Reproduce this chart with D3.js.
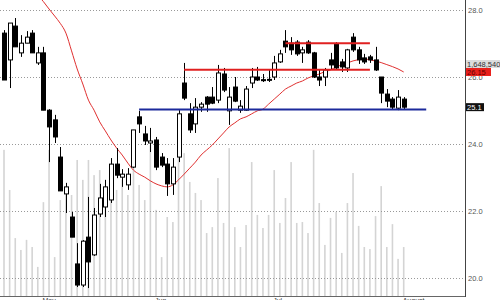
<!DOCTYPE html>
<html lang="en">
<head>
<meta charset="utf-8">
<title>Price chart</title>
<script src="https://cdn.jsdelivr.net/npm/d3@7/dist/d3.min.js"></script>
<style>
  body { margin: 0; background: #fff; }
  text { font-family: "Liberation Sans", Arial, sans-serif; }
</style>
</head>
<body>
<script>
// daily candles, oldest first
var opens  = [27.31, 26.51, 27.52, 26.72, 27.01, 27.31, 26.42, 26.72, 25.01, 24.72,
              23.61, 22.51, 21.82, 20.42, 19.79, 21.22, 20.69, 21.91, 22.12, 22.33,
              23.40, 23.01, 22.78, 23.31, 24.81, 24.30, 24.03, 24.12, 23.61, 23.40,
              22.81, 23.61, 25.82, 24.90, 24.60, 25.10, 25.40, 25.40, 25.31, 26.09,
              24.99, 25.70, 25.01, 25.01, 25.82, 26.00, 25.92, 25.90, 26.00, 26.45,
              27.07, 27.01, 27.04, 26.72, 27.04, 26.72, 26.00, 26.00, 26.51, 26.99,
              26.45, 26.27, 27.19, 26.81, 26.57, 26.60, 26.51, 26.00, 25.49, 25.34,
              25.07, 25.34];
var highs  = [27.40, 27.61, 27.76, 27.25, 27.37, 27.40, 26.90, 26.90, 25.04, 24.87,
              23.91, 22.84, 21.97, 21.04, 21.13, 22.42, 22.09, 22.81, 22.93, 23.58,
              23.88, 23.25, 23.28, 24.42, 24.99, 24.54, 24.48, 24.21, 23.73, 23.58,
              23.58, 25.01, 26.42, 25.22, 25.37, 25.25, 25.43, 25.70, 26.36, 26.27,
              25.70, 26.00, 25.31, 25.73, 26.27, 26.30, 26.09, 26.21, 26.63, 26.81,
              27.40, 27.19, 27.10, 26.90, 27.10, 26.75, 26.21, 26.27, 26.72, 27.04,
              26.54, 26.84, 27.31, 26.90, 26.69, 26.66, 26.90, 26.00, 25.64, 25.40,
              25.61, 25.40];
var lows   = [25.91, 25.67, 26.90, 26.60, 27.01, 26.72, 26.36, 25.01, 23.46, 24.03,
              22.60, 21.94, 21.22, 19.73, 19.73, 19.70, 20.66, 21.82, 21.82, 22.24,
              22.98, 22.72, 22.63, 23.28, 24.33, 23.97, 23.76, 23.22, 23.31, 22.45,
              22.48, 23.46, 25.31, 24.33, 24.33, 24.96, 24.96, 25.19, 25.22, 25.55,
              24.57, 25.25, 24.93, 24.99, 25.67, 25.88, 25.85, 25.85, 25.91, 26.42,
              26.72, 26.66, 26.63, 26.42, 26.69, 25.97, 25.73, 25.73, 26.21, 26.21,
              26.15, 26.15, 26.75, 26.39, 26.39, 26.42, 26.18, 25.22, 25.10, 25.04,
              25.01, 25.04];
var closes = [25.91, 27.61, 26.90, 27.01, 27.19, 26.72, 26.72, 25.01, 24.51, 24.21,
              22.60, 22.72, 21.22, 19.79, 21.10, 20.48, 21.88, 22.39, 22.72, 23.40,
              23.07, 23.10, 23.10, 24.42, 24.60, 24.09, 24.09, 23.31, 23.37, 22.81,
              23.31, 24.90, 25.37, 24.42, 25.10, 25.19, 25.19, 25.22, 26.12, 25.61,
              25.40, 25.28, 25.13, 25.64, 26.00, 25.91, 25.89, 25.93, 26.42, 26.69,
              26.90, 26.81, 26.69, 26.81, 26.72, 26.00, 25.91, 26.21, 26.36, 26.27,
              26.30, 26.81, 26.81, 26.51, 26.45, 26.51, 26.21, 25.52, 25.28, 25.10,
              25.40, 25.10];
// shares traded per day
var volumes = [4920000, 3570000, 1950000, 1550000, 1890000, 1650000,  980000, 3160000, 4920000, 1310000,
               3230000, 3570000, 3400000, 4580000, 3910000, 4580000, 4070000, 4240000, 3230000, 4240000,
               3570000, 3910000, 3400000, 4580000, 3740000, 3230000, 5080000, 2900000, 1310000, 2660000,
               2490000, 4980000, 4810000, 3840000, 3470000, 3230000, 2120000, 2320000, 3970000, 2460000,
               4980000, 2320000, 1650000, 2390000, 4510000, 2730000, 2290000, 2730000, 4240000, 2460000,
               3300000, 4510000, 2460000, 2490000, 2120000, 4920000, 3130000, 1720000, 2630000, 2830000,
               1450000, 3130000, 4140000, 2360000, 1650000, 1580000, 2690000, 3700000, 1650000, 2420000,
               1250000, 1648540];
// moving average line (null where it is not drawn)
var maValues = [null, null, null, null, null, null, 28.45, 28.25, 28.03, 27.82,
                27.60, 27.31, 26.78, 26.24, 25.79, 25.31, 25.01, 24.66, 24.39, 24.12,
                23.88, 23.67, 23.43, 23.22, 23.10, 23.01, 22.90, 22.81, 22.75, 22.72,
                22.78, 22.93, 23.10, 23.28, 23.46, 23.67, 23.82, 23.97, 24.15, 24.33,
                24.51, 24.63, 24.75, 24.81, 24.90, 24.99, 25.04, 25.19, 25.34, 25.49,
                25.64, 25.73, 25.82, 25.88, 25.97, 26.03, 26.09, 26.16, 26.21, 26.30,
                26.36, 26.42, 26.48, 26.52, 26.54, 26.51, 26.48, 26.43, 26.37, 26.31,
                26.24, 26.15];
var monthLabels = ["May", "Jun", "Jul", "August"];
var monthStarts = [7, 27, 48, 71];
var priceTicks = [20, 22, 24, 26, 28];
// drawn support / resistance levels
var levelPrices = [27.01, 26.22, 25.03];
var levelFrom   = [50, 32, 24];
var levelTo     = [65, 65, 75];

var w = 500, h = 300;
var plotRight = 465, plotBottom = 296;

var svg = d3.select("body").append("svg")
  .attr("width", w)
  .attr("height", h);

var x = d3.scaleLinear().domain([0, 71]).range([4, 403.7]);
var y = d3.scaleLinear().domain([20, 28]).range([278, 10]);
var yVol = d3.scaleLinear().domain([0, 10000000]).range([plotBottom, -1]);

svg.append("clipPath").attr("id", "plot")
  .append("rect").attr("x", 0).attr("y", 0)
  .attr("width", plotRight).attr("height", plotBottom);

var plot = svg.append("g").attr("clip-path", "url(#plot)");

// volume bars in the background
plot.selectAll("rect.vol")
  .data(volumes)
  .enter()
  .append("rect")
  .attr("class", "vol")
  .attr("x", function(d, i) { return x(i) - 0.8; })
  .attr("y", function(d) { return yVol(d); })
  .attr("width", 1.6)
  .attr("height", function(d) { return plotBottom - yVol(d); })
  .attr("fill", "#d4d4d4");

// dotted price grid
plot.selectAll("line.grid")
  .data(priceTicks)
  .enter()
  .append("line")
  .attr("x1", 0).attr("x2", plotRight)
  .attr("y1", function(d) { return Math.round(y(d)) + 0.5; })
  .attr("y2", function(d) { return Math.round(y(d)) + 0.5; })
  .attr("stroke", "#999")
  .attr("stroke-dasharray", "1,2");

// moving average
var maLine = d3.line()
  .defined(function(d) { return d != null; })
  .x(function(d, i) { return x(i); })
  .y(function(d) { return y(d); })
  .curve(d3.curveMonotoneX);

plot.append("path")
  .datum(maValues)
  .attr("d", maLine)
  .attr("fill", "none")
  .attr("stroke", "#e03030")
  .attr("stroke-width", 1);

// candles
var candles = plot.selectAll("g.candle")
  .data(closes)
  .enter()
  .append("g");

candles.append("line")
  .attr("x1", function(d, i) { return Math.round(x(i)) + 0.5; })
  .attr("x2", function(d, i) { return Math.round(x(i)) + 0.5; })
  .attr("y1", function(d, i) { return y(highs[i]); })
  .attr("y2", function(d, i) { return y(lows[i]); })
  .attr("stroke", "#000");

candles.append("rect")
  .attr("x", function(d, i) { return Math.round(x(i)) - 1.5; })
  .attr("y", function(d, i) { return y(Math.max(opens[i], d)); })
  .attr("width", 4)
  .attr("height", function(d, i) {
    return Math.max(1, Math.abs(y(opens[i]) - y(d)));
  })
  .attr("fill", function(d, i) { return d >= opens[i] ? "#fff" : "#000"; })
  .attr("stroke", "#000")
  .attr("stroke-width", 1);

// support / resistance lines
plot.selectAll("line.level")
  .data(levelPrices)
  .enter()
  .append("line")
  .attr("x1", function(d, i) { return x(levelFrom[i]); })
  .attr("x2", function(d, i) { return x(levelTo[i]); })
  .attr("y1", function(d) { return y(d); })
  .attr("y2", function(d) { return y(d); })
  .attr("stroke", function(d, i) { return i < 2 ? "#e02020" : "#1c2a9c"; })
  .attr("stroke-width", 2);

// right price axis
var axis = d3.axisRight(y)
  .tickValues(priceTicks)
  .tickSize(0)
  .tickPadding(3)
  .tickFormat(d3.format(".1f"));

var ax = svg.append("g")
  .attr("transform", "translate(" + plotRight + ",0)")
  .call(axis);
ax.select(".domain").remove();
ax.selectAll("text")
  .attr("font-size", "7.5px")
  .attr("font-family", "Liberation Sans, Arial, sans-serif")
  .attr("fill", "#555");

svg.append("line")
  .attr("x1", plotRight + 0.5).attr("x2", plotRight + 0.5)
  .attr("y1", 0).attr("y2", plotBottom + 1)
  .attr("stroke", "#444");

svg.append("line")
  .attr("x1", 0).attr("x2", plotRight)
  .attr("y1", plotBottom + 0.5).attr("y2", plotBottom + 0.5)
  .attr("stroke", "#666");

// month labels along the bottom
svg.selectAll("text.month")
  .data(monthLabels)
  .enter()
  .append("text")
  .attr("x", function(d, i) { return x(monthStarts[i]) - 1; })
  .attr("y", 303)
  .attr("font-size", "7px")
  .attr("fill", "#444")
  .text(function(d) { return d; });

// last value tags on the axis
var last = closes.length - 1;
var tags = [
  { text: d3.format(",")(volumes[last]), cy: y(maValues[last]) - 8, bg: "#dcdcdc", fg: "#333", w: 36 },
  { text: maValues[last].toFixed(2), cy: y(maValues[last]), bg: "#e8201c", fg: "#600", w: 25 },
  { text: d3.format(".1f")(closes[last]), cy: y(closes[last]), bg: "#111", fg: "#fff", w: 18 }
];

var tag = svg.selectAll("g.tag")
  .data(tags)
  .enter()
  .append("g");

tag.append("rect")
  .attr("x", plotRight + 1)
  .attr("y", function(d) { return d.cy - 4; })
  .attr("width", function(d) { return d.w; })
  .attr("height", 8)
  .attr("fill", function(d) { return d.bg; });

tag.append("text")
  .attr("x", plotRight + 2)
  .attr("y", function(d) { return d.cy + 3; })
  .attr("font-size", "7.5px")
  .attr("fill", function(d) { return d.fg; })
  .text(function(d) { return d.text; });
</script>
</body>
</html>
